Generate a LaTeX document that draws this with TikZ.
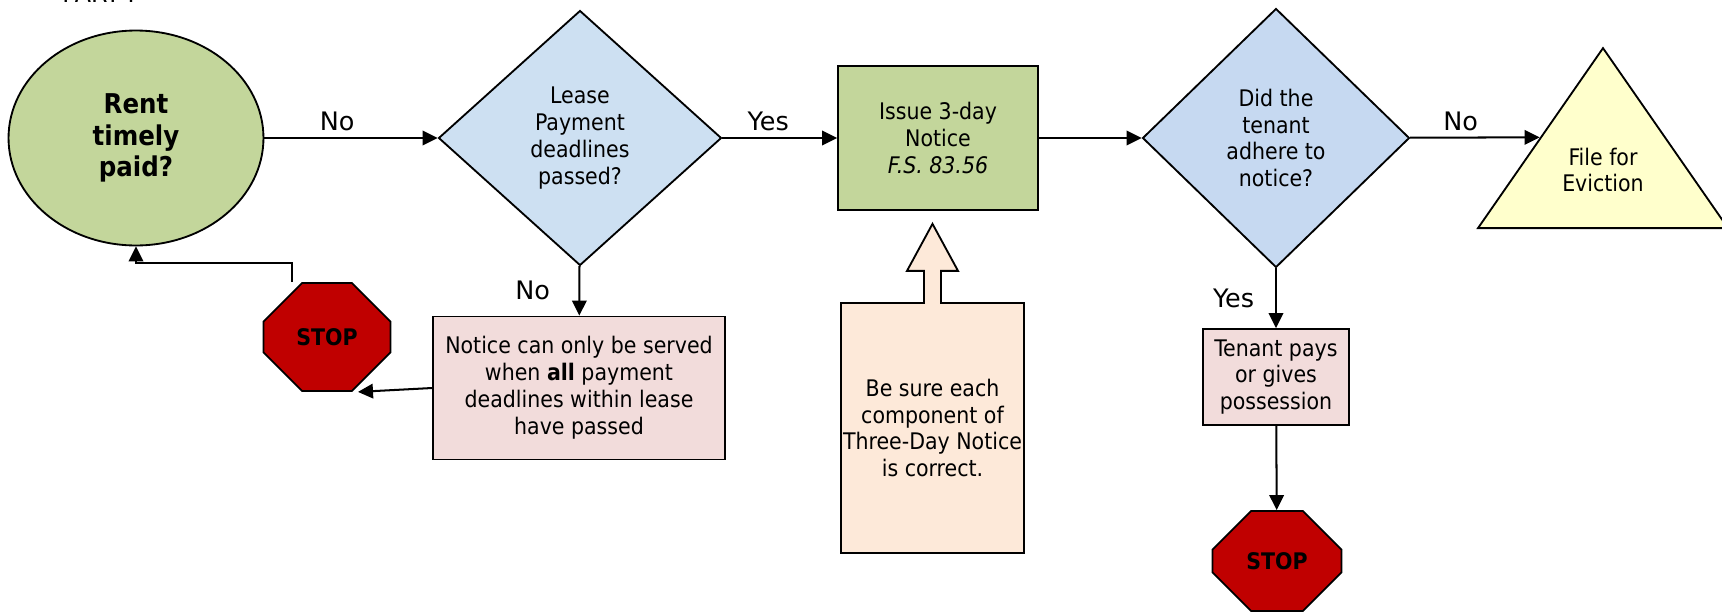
\documentclass[tikz,border=0pt]{standalone}
\usepackage{fontspec}
\setmainfont{DejaVu Sans Condensed}
\newfontfamily\labelfont{DejaVu Sans}
\usetikzlibrary{shapes.geometric,shapes.misc,arrows.meta,positioning}

\definecolor{leafgreen}{HTML}{C3D69B}
\definecolor{askblue}{HTML}{CDE0F2}
\definecolor{askblueB}{HTML}{C6D9F1}
\definecolor{notepink}{HTML}{F2DCDB}
\definecolor{peach}{HTML}{FDE9D9}
\definecolor{paleyellow}{HTML}{FFFFCC}
\definecolor{stopred}{HTML}{C00000}

\tikzset{
  every node/.style={font=\fontsize{13}{15.3}\selectfont, align=center},
  shapeline/.style={draw=black, line width=1.05pt},
  process/.style={shapeline, rectangle, inner sep=0pt},
  decision/.style={shapeline, diamond, inner sep=0pt},
  stopsign/.style={shapeline, chamfered rectangle, chamfered rectangle xsep=0.6cm,
    chamfered rectangle ysep=0.6cm, fill=stopred, inner sep=0pt,
    font=\fontsize{13}{15}\selectfont\bfseries},
  answer/.style={font=\labelfont\fontsize{14.5}{16}\selectfont},
  arr/.style={line width=1.15pt, -{Triangle[length=0.3cm,width=0.29cm]}},
}

\begin{document}
\begin{tikzpicture}[x=0.02cm,y=-0.02cm]
\useasboundingbox (0,0) rectangle (1722,613);
% heading, cut by the top edge
\node[anchor=base west, inner sep=0pt, font=\fontsize{15}{17}\selectfont] (part) at (62,2) {PART I};

% top row
\node[shapeline, ellipse, fill=leafgreen, minimum width=5.1cm, minimum height=4.3cm,
  inner sep=0pt, font=\fontsize{15.5}{18}\selectfont\bfseries] (rent) at (136,138) {Rent\\timely\\paid?};
\node[decision, fill=askblue, minimum width=5.66cm, minimum height=5.1cm] (lease) at (580,138)
  {Lease\\Payment\\deadlines\\passed?};
\node[process, fill=leafgreen, minimum width=4cm, minimum height=2.88cm] (issue) at (938,138)
  {Issue 3-day\\Notice\\\textit{F.S. 83.56}};
\node[decision, fill=askblueB, minimum width=5.34cm, minimum height=5.18cm] (adhere) at (1276,138)
  {Did the\\tenant\\adhere to\\notice?};
\node[shapeline, isosceles triangle, isosceles triangle stretches, shape border rotate=90,
  fill=paleyellow, minimum width=5cm, minimum height=3.6cm, inner sep=0pt,
  anchor=lower side] (evict) at (1603,229) {};
\node (evicttext) at (1603,170) {File for\\Eviction};

% bottom row
\node[process, fill=notepink, minimum width=5.84cm, minimum height=2.86cm] (notice) at (579,388)
  {Notice can only be served\\when \textbf{all} payment\\deadlines within lease\\have passed};
\node[stopsign, minimum width=2.54cm, minimum height=2.16cm] (stopA) at (327,337) {STOP};
\node[process, fill=peach, minimum width=3.66cm, minimum height=5cm] (sure) at (932.5,428)
  {Be sure each\\component of\\Three-Day Notice\\is correct.};
\node[process, fill=notepink, minimum width=2.92cm, minimum height=1.92cm] (tenant) at (1276,377)
  {Tenant pays\\or gives\\possession};
\node[stopsign, minimum width=2.58cm, minimum height=2cm] (stopB) at (1277,561) {STOP};

% block arrow on top of the note
\filldraw[shapeline, fill=peach, line join=miter]
  ([xshift=-0.17cm, yshift=-0.035cm]sure.north) -- ++(0,-33) -- ++(-17,0) -- ++(25.5,-47)
  -- ++(25.5,47) -- ++(-17,0) -- ++(0,33);

% connectors
\draw[arr] (rent) -- node[answer, pos=0.42, above] {No} (lease);
\draw[arr] (lease) -- node[answer, pos=0.4, above] {Yes} (issue);
\draw[arr] (issue) -- (adhere);
\draw[arr] (adhere) -- node[answer, pos=0.39, above] {No} (evict.left side);
\draw[arr] (lease) -- node[answer, midway, left=0.45cm] {No} (notice);
\draw[arr] (adhere) -- node[answer, midway, left=0.3cm] {Yes} (tenant);
\draw[arr] (tenant) -- (stopB);
\draw[arr] (notice.west) -- ([xshift=0.62cm]stopA.south);
\draw[arr] ([xshift=-0.7cm]stopA.north) -- ++(0,-19) -| (rent.south);
\end{tikzpicture}
\end{document}
